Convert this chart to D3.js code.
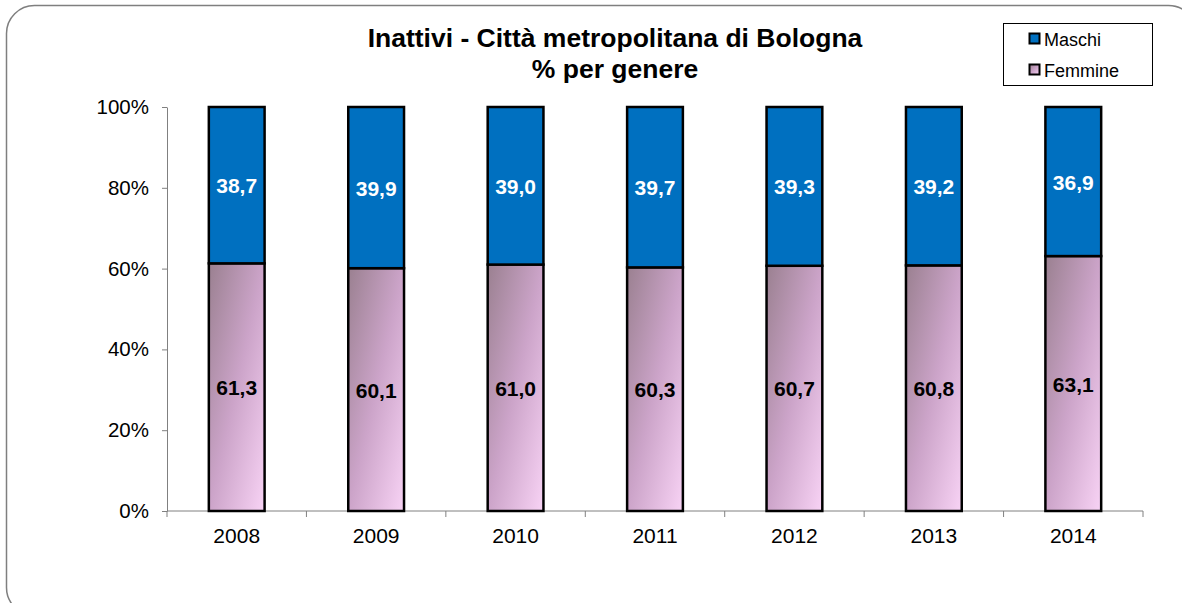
<!DOCTYPE html>
<html><head><meta charset="utf-8">
<script src="https://cdn.jsdelivr.net/npm/d3@7"></script>
<style>body{margin:0;background:#fff}svg{display:block;font-family:"Liberation Sans",Arial,sans-serif}</style>
</head><body><svg id="c" width="1182" height="603"></svg>
<script>
const categories = ["2008","2009","2010","2011","2012","2013","2014"];
const femmine = [61.3,60.1,61.0,60.3,60.7,60.8,63.1];
const maschi = [38.7,39.9,39.0,39.7,39.3,39.2,36.9];
const yTicks = [0,20,40,60,80,100];
const seriesNames = ["Maschi","Femmine"];

const FF = "Liberation Sans, Arial, sans-serif";
const svg = d3.select("#c");
const defs = svg.append("defs");
const g = defs.append("linearGradient").attr("id","fem").attr("x1",0).attr("y1",0).attr("x2",1).attr("y2",1);
g.append("stop").attr("offset","0%").attr("stop-color","#9a8090");
g.append("stop").attr("offset","50%").attr("stop-color","#cca4c9");
g.append("stop").attr("offset","100%").attr("stop-color","#f8d3f5");

// frame
svg.append("rect").attr("x",6.5).attr("y",5.5).attr("width",1190).attr("height",610).attr("rx",28)
  .attr("fill","none").attr("stroke","#7f7f7f").attr("stroke-width",1.5);

const x = d3.scaleBand().domain(categories).range([167,1143]).paddingInner(0.6).paddingOuter(0.3);
const y = d3.scaleLinear().domain([0,100]).range([511,107]);

// y axis
const yAxis = svg.append("g").attr("transform","translate(167,0)")
  .call(d3.axisLeft(y).tickValues(yTicks).tickFormat(d=>d+"%").tickSize(5).tickSizeOuter(0));
yAxis.select(".domain").attr("stroke","#808080");
yAxis.selectAll(".tick line").attr("stroke","#808080");
yAxis.selectAll("text").attr("font-size",20.5).attr("fill","#000").attr("x",-18).attr("font-family",FF);

// x axis
const xb = d3.scaleLinear().domain([0,categories.length]).range([167,1143]);
const xAxisG = svg.append("g").attr("transform","translate(0,511)");
xAxisG.append("line").attr("x1",167).attr("x2",1143).attr("stroke","#808080");
xAxisG.selectAll("line.t").data(d3.range(categories.length+1)).join("line").attr("class","t")
  .attr("x1",d=>xb(d)).attr("x2",d=>xb(d)).attr("y1",0).attr("y2",6).attr("stroke","#808080");
xAxisG.selectAll("text").data(categories).join("text")
  .attr("x",d=>x(d)+x.bandwidth()/2).attr("y",32).attr("text-anchor","middle")
  .attr("font-size",21).text(d=>d);

// bars
const bars = svg.append("g");
categories.forEach((c,i)=>{
  bars.append("rect").attr("x",x(c)).attr("width",x.bandwidth())
    .attr("y",y(femmine[i])).attr("height",y(0)-y(femmine[i]))
    .attr("fill","url(#fem)").attr("stroke","#000").attr("stroke-width",2.5);
  bars.append("rect").attr("x",x(c)).attr("width",x.bandwidth())
    .attr("y",y(femmine[i]+maschi[i])).attr("height",y(femmine[i])-y(femmine[i]+maschi[i]))
    .attr("fill","#0070c0").attr("stroke","#000").attr("stroke-width",2.5);
  bars.append("text").attr("x",x(c)+x.bandwidth()/2).attr("y",(y(0)+y(femmine[i]))/2+8)
    .attr("text-anchor","middle").attr("font-size",21).attr("font-weight","bold").attr("fill","#000")
    .text(femmine[i].toFixed(1).replace(".",","));
  bars.append("text").attr("x",x(c)+x.bandwidth()/2).attr("y",(y(femmine[i])+y(100))/2+8)
    .attr("text-anchor","middle").attr("font-size",21).attr("font-weight","bold").attr("fill","#fff")
    .text(maschi[i].toFixed(1).replace(".",","));
});

// title
const t = svg.append("text").attr("text-anchor","middle").attr("font-size",26.5).attr("font-weight","bold");
t.append("tspan").attr("x",615).attr("y",47).text("Inattivi - Città metropolitana di Bologna");
t.append("tspan").attr("x",615).attr("y",78).text("% per genere");

// legend
const lg = svg.append("g");
lg.append("rect").attr("x",1003.5).attr("y",23.5).attr("width",149).attr("height",62).attr("fill","#fff").attr("stroke","#000").attr("stroke-width",1);
const lfill = ["#0070c0","url(#fem)"];
seriesNames.forEach((n,i)=>{
  const yy = 39 + i*31;
  lg.append("rect").attr("x",1029.5).attr("y",yy-5.5).attr("width",10).attr("height",10)
    .attr("fill",lfill[i]).attr("stroke","#000").attr("stroke-width",2);
  lg.append("text").attr("x",1044).attr("y",yy+6.5).attr("font-size",18).text(n);
});
</script></body></html>
